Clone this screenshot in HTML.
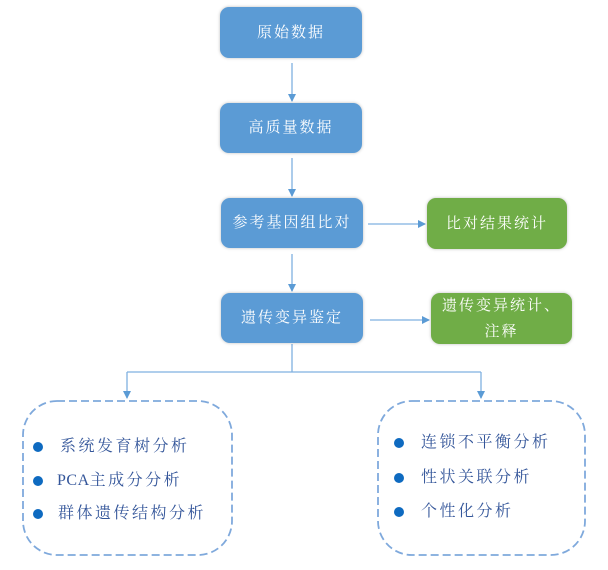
<!DOCTYPE html>
<html><head><meta charset="utf-8"><style>
body{margin:0;width:608px;height:570px;background:#fff;position:relative;overflow:hidden;font-family:"Liberation Serif","Noto Serif CJK SC",serif;}
.b{position:absolute;border-radius:9px;color:#fff;font-size:15px;letter-spacing:2px;display:flex;align-items:center;justify-content:center;text-align:center;line-height:26px;box-shadow:0 0 3px rgba(0,0,0,.25);}
.bl{background:#5b9bd5;}
.gr{background:#70ad47;}
.it{position:absolute;font-size:16px;letter-spacing:2.5px;color:#34569a;white-space:nowrap;line-height:20px;}
.dot{position:absolute;width:10px;height:10px;border-radius:50%;background:#0e6ac0;}
</style></head><body>
<svg width="608" height="570" style="position:absolute;left:0;top:0">
<defs><marker id="a" markerWidth="8" markerHeight="8" refX="7" refY="4" orient="auto" markerUnits="userSpaceOnUse"><path d="M0,0 L8,4 L0,8 z" fill="#5b9bd5"/></marker></defs>
<g stroke="#7fb0e0" stroke-width="1.3" fill="none">
<line x1="292" y1="63" x2="292" y2="101" marker-end="url(#a)"/>
<line x1="292" y1="158" x2="292" y2="196" marker-end="url(#a)"/>
<line x1="292" y1="254" x2="292" y2="291" marker-end="url(#a)"/>
<line x1="368" y1="224" x2="425" y2="224" marker-end="url(#a)"/>
<line x1="370" y1="320" x2="429" y2="320" marker-end="url(#a)"/>
<line x1="292" y1="344" x2="292" y2="372"/>
<line x1="127" y1="372" x2="481" y2="372"/>
<line x1="127" y1="372" x2="127" y2="398" marker-end="url(#a)"/>
<line x1="481" y1="372" x2="481" y2="398" marker-end="url(#a)"/>
</g>
<g stroke="#7fa9dc" stroke-width="1.8" fill="none" stroke-dasharray="8 4">
<rect x="23" y="401" width="209" height="154" rx="34"/>
<rect x="378" y="401" width="207" height="154" rx="34"/>
</g></svg>
<div class="b bl" style="left:220px;top:7px;width:142px;height:51px">原始数据</div>
<div class="b bl" style="left:220px;top:103px;width:142px;height:50px">高质量数据</div>
<div class="b bl" style="left:221px;top:198px;width:142px;height:50px">参考基因组比对</div>
<div class="b bl" style="left:221px;top:293px;width:142px;height:50px">遗传变异鉴定</div>
<div class="b gr" style="left:427px;top:198px;width:140px;height:51px">比对结果统计</div>
<div class="b gr" style="left:431px;top:293px;width:141px;height:51px">遗传变异统计、<br>注释</div>
<div class="dot" style="left:33px;top:442px"></div><div class="it" style="left:60px;top:437px">系统发育树分析</div>
<div class="dot" style="left:33px;top:476px"></div><div class="it" style="left:57px;top:471px"><span style="letter-spacing:0.5px">PCA</span>主成分分析</div>
<div class="dot" style="left:33px;top:509px"></div><div class="it" style="left:58px;top:504px">群体遗传结构分析</div>
<div class="dot" style="left:394px;top:438px"></div><div class="it" style="left:421px;top:433px">连锁不平衡分析</div>
<div class="dot" style="left:394px;top:473px"></div><div class="it" style="left:421px;top:468px">性状关联分析</div>
<div class="dot" style="left:394px;top:507px"></div><div class="it" style="left:421px;top:502px">个性化分析</div>
</body></html>
